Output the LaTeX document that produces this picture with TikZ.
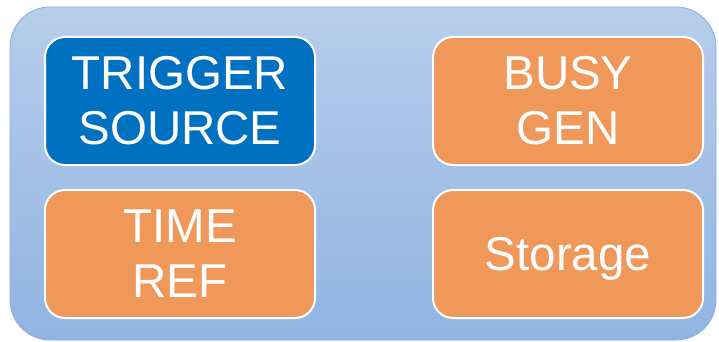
\documentclass[tikz,border=0pt]{standalone}
\usepackage{fontspec}
\setmainfont{Liberation Sans}
\definecolor{bgtop}{RGB}{183,205,235}
\definecolor{bgbot}{RGB}{145,180,226}
\definecolor{bgedge}{RGB}{140,174,220}
\definecolor{trigblue}{RGB}{0,112,192}
\definecolor{boxorange}{RGB}{240,152,90}
\tikzset{
  block/.style={draw=white, line width=2pt, rounded corners=20pt,
    minimum width=270pt, minimum height=128pt, inner sep=0pt,
    text=white, align=center, font=\fontsize{47.5}{55}\selectfont},
  blueblock/.style={block, fill=trigblue},
  orangeblock/.style={block, fill=boxorange}
}
\begin{document}
\begin{tikzpicture}[x=1pt,y=-1pt]
\useasboundingbox (0,0) rectangle (719,342);
\shade[top color=bgtop, bottom color=bgbot, rounded corners=40pt, draw=bgedge, line width=0.8pt]
  (10,7) rectangle (716,340);
\node[blueblock] (trig) at (180,101) {TRIGGER\\SOURCE};
\node[orangeblock] (busy) at (568,101) {BUSY\\GEN};
\node[orangeblock] (time) at (180,254) {TIME\\REF};
\node[orangeblock, text depth=0pt] (stor) at (568,254) {Storage};
\end{tikzpicture}
\end{document}
